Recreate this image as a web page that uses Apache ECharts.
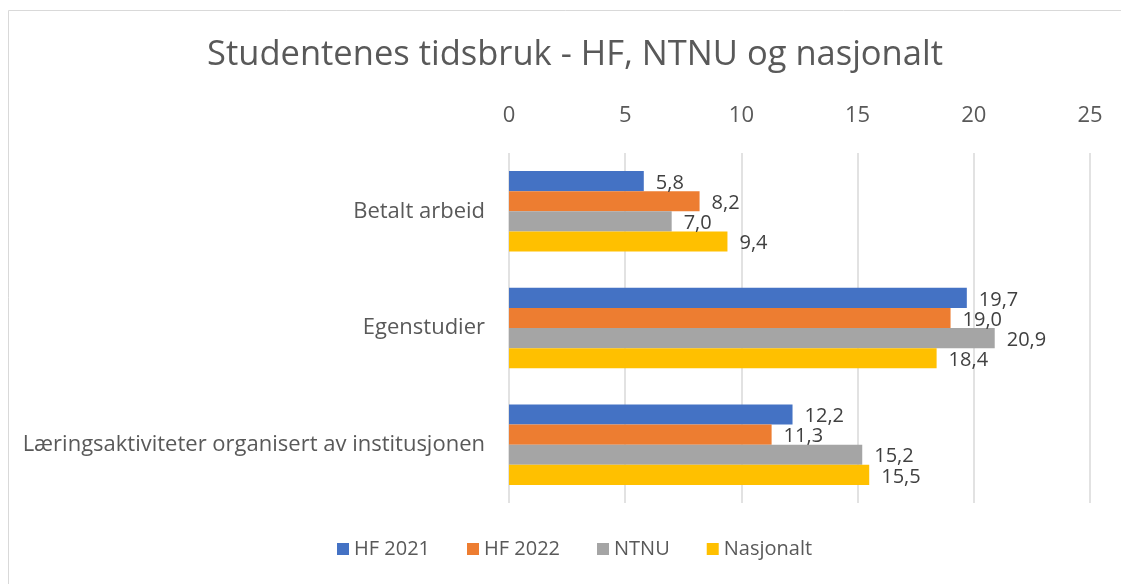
<!DOCTYPE html>
<html lang="no">
<head>
    <meta charset="UTF-8">
    <title>Studentenes tidsbruk</title>
    <script src="https://cdn.jsdelivr.net/npm/echarts@6/dist/echarts.min.js"></script>
    <style>
        html, body { margin: 0; padding: 0; background: #fff; }
    </style>
</head>
<body>
<div id="main" style="width: 1121px;height:584px;"></div>

<script type="text/javascript">
    // data
    var kategorier = ['Betalt arbeid', 'Egenstudier', 'Læringsaktiviteter organisert av institusjonen'];
    var hf2021 = [5.8, 19.7, 12.2];
    var hf2022 = [8.2, 19.0, 11.3];
    var ntnu = [7.0, 20.9, 15.2];
    var nasjonalt = [9.4, 18.4, 15.5];
    var serieNavn = ['HF 2021', 'HF 2022', 'NTNU', 'Nasjonalt'];
    var farger = ['#4472C4', '#ED7D31', '#A5A5A5', '#FFC000'];

    var font = 'Open Sans';
    var myChart = echarts.init(document.getElementById('main'));

    function lagSerie(navn, verdier) {
        return {
            name: navn,
            type: 'bar',
            data: verdier,
            barGap: '0%',
            barCategoryGap: '31%',
            label: {
                show: true,
                position: 'right',
                distance: 12,
                offset: [0, 2],
                color: '#404040',
                fontFamily: font,
                fontSize: 20,
                formatter: function (p) {
                    return p.value.toFixed(1).replace('.', ',');
                }
            }
        };
    }

    var option = {
        color: farger,
        animation: false,
        title: {
            text: 'Studentenes tidsbruk - HF, NTNU og nasjonalt',
            left: 570,
            top: 33,
            textAlign: 'center',
            textStyle: {
                color: '#595959',
                fontFamily: font,
                fontSize: 34.5,
                fontWeight: 'normal'
            }
        },
        graphic: [{
            type: 'rect',
            shape: { x: 8.5, y: 10.5, width: 1130, height: 600 },
            style: { fill: 'none', stroke: '#d9d9d9', lineWidth: 1 },
            silent: true
        }],
        legend: {
            data: serieNavn,
            bottom: 20,
            left: 332,
            itemWidth: 12,
            itemHeight: 12,
            itemGap: 37,
            icon: 'rect',
            textStyle: { color: '#595959', fontFamily: font, fontSize: 20 }
        },
        grid: {
            left: 509,
            right: 31,
            top: 153,
            bottom: 81
        },
        xAxis: {
            type: 'value',
            position: 'top',
            min: 0,
            max: 25,
            interval: 5,
            axisLine: { show: false },
            axisTick: { show: false },
            axisLabel: { color: '#595959', fontFamily: font, fontSize: 22, margin: 26 },
            splitLine: { lineStyle: { color: '#d9d9d9', width: 1.5 } }
        },
        yAxis: {
            type: 'category',
            data: kategorier,
            inverse: true,
            axisLine: { show: false },
            axisTick: { show: false },
            axisLabel: { color: '#595959', fontFamily: font, fontSize: 22, margin: 24 }
        },
        series: [
            lagSerie(serieNavn[0], hf2021),
            lagSerie(serieNavn[1], hf2022),
            lagSerie(serieNavn[2], ntnu),
            lagSerie(serieNavn[3], nasjonalt)
        ]
    };
    myChart.setOption(option);
</script>
</body>
</html>
